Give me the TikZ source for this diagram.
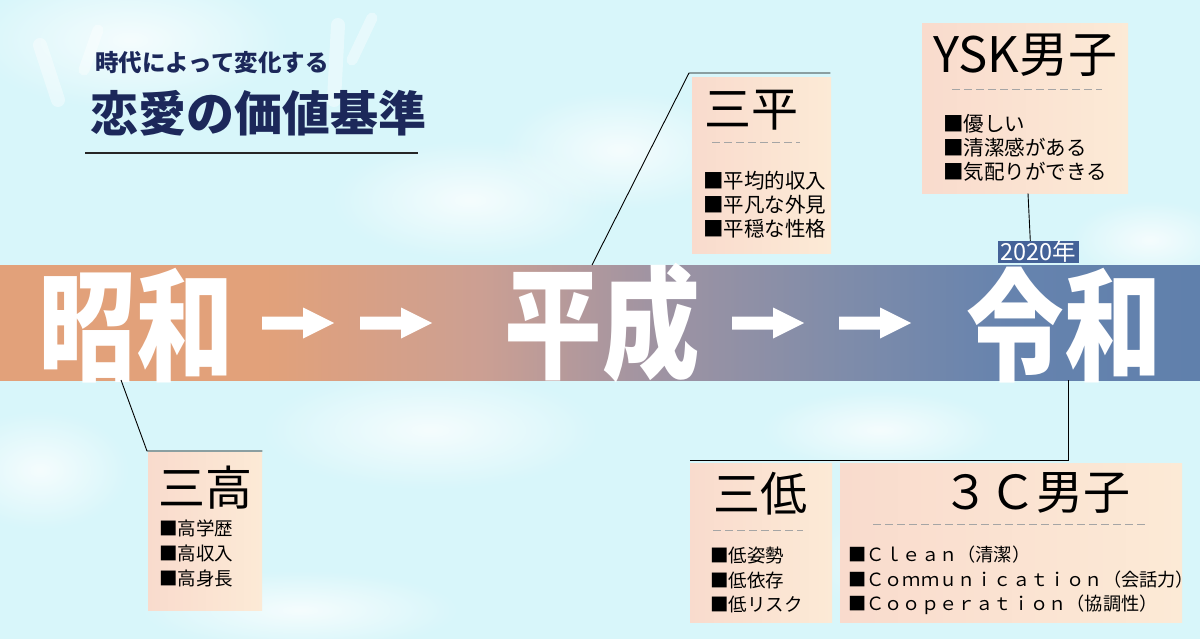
\documentclass[tikz,border=0pt]{standalone}
\usepackage{fontspec}
\usepackage{graphicx}
\setmainfont{Noto Sans CJK JP}
\usetikzlibrary{fadings,calc}
\definecolor{bgc}{RGB}{216,246,250}
\definecolor{navy}{RGB}{28,40,90}
\definecolor{yearc}{RGB}{68,98,152}
\definecolor{boxl}{RGB}{249,219,205}
\definecolor{boxr}{RGB}{252,234,214}
\definecolor{dashc}{RGB}{165,165,165}
\tikzfading[name=softblob, inner color=transparent!0, outer color=transparent!100]
\pgfdeclarehorizontalshading{bandsh}{100bp}{rgb(0bp)=(0.886,0.631,0.478); rgb(25bp)=(0.886,0.631,0.478); rgb(36bp)=(0.886,0.631,0.478); rgb(45bp)=(0.8,0.625,0.575); rgb(52bp)=(0.63,0.58,0.635); rgb(60bp)=(0.5,0.55,0.665); rgb(67bp)=(0.4,0.514,0.682); rgb(75bp)=(0.376,0.502,0.675); rgb(100bp)=(0.376,0.502,0.675)}
\tikzset{
  peach/.style={left color=boxl, right color=boxr, draw=none, inner sep=0, anchor=north west},
  conn/.style={draw=black, line width=0.9pt},
  dashln/.style={draw=dashc, line width=0.8pt, dash pattern=on 8pt off 4pt},
  era/.style={text=white, font=\fontsize{122}{122}\selectfont\bfseries, inner sep=0},
  boxtitle/.style={font=\fontsize{47}{47}\selectfont, inner sep=0},
  itemsm/.style={font=\fontsize{18.5}{20}\selectfont, inner sep=0, anchor=west},
  itembig/.style={font=\fontsize{20.5}{22}\selectfont, inner sep=0, anchor=west},
  blob/.style={fill=white, path fading=softblob, opacity=0.75},
  hand/.style={white, opacity=0.4, line cap=round},
  bandarr/.pic={\fill[white] (0,-6.5) -- (41,-6.5) -- (41,-15.5) -- (72,0) -- (41,15.5) -- (41,6.5) -- (0,6.5) -- cycle;}
}
\begin{document}
\begin{tikzpicture}[x=1pt,y=-1pt]
\useasboundingbox (0,0) rectangle (1200,639);
% background
\fill[bgc] (0,0) rectangle (1200,639);
\fill[blob] (130,40) ellipse (160 and 70);
\fill[blob] (470,200) ellipse (140 and 60);
\fill[blob] (620,150) ellipse (120 and 60);
\fill[blob] (430,430) ellipse (170 and 60);
\fill[blob] (950,560) ellipse (150 and 60);
\fill[blob] (300,610) ellipse (160 and 40);
\fill[blob] (1150,240) ellipse (80 and 40);
\fill[blob] (880,430) ellipse (120 and 40);
\fill[blob] (40,470) ellipse (90 and 60);
% faint hand strokes
\draw[hand, line width=14pt] (40,45) -- (58,100);
\draw[hand, line width=11pt] (98,30) -- (84,70);
\draw[hand, line width=14pt] (338,25) -- (334,100);
\draw[hand, line width=11pt] (372,18) -- (352,60);
% title
\node[text=navy, font=\fontsize{23.5}{24}\selectfont\bfseries, inner sep=0] (sub) at (212,63) {時代によって変化する};
\node[text=navy, font=\fontsize{48}{48}\selectfont\bfseries, inner sep=0] (ttl) at (258,113) {恋愛の価値基準};
\coordinate (tl1) at (85,153);
\coordinate (tl2) at (418,153);
\draw[line width=1.2pt, black!85] (tl1) -- (tl2);
% band
\node[shade, shading=bandsh, minimum width=1200pt, minimum height=115pt, inner sep=0, anchor=north west] (band) at (0,265) {};
\node[fill=yearc, text=white, font=\fontsize{23.5}{23.5}\selectfont, minimum width=81pt, minimum height=22pt, inner sep=0] (year) at (1038,252) {2020年};
\node[era] (showa) at (136,326) {\scalebox{0.8}[1]{昭和}};
\node[era] (heisei) at (602,323) {\scalebox{0.8}[1]{平成}};
\node[era] (reiwa) at (1064,325) {\scalebox{0.8}[1]{令和}};
\pic at (262,323) {bandarr};
\pic at (360,323) {bandarr};
\pic at (732,323) {bandarr};
\pic at (839,323) {bandarr};
% boxes
\node[peach, minimum width=114pt, minimum height=158pt] (kou) at (148,452) {};
\node[peach, minimum width=139pt, minimum height=176pt] (hei) at (692,77) {};
\node[peach, minimum width=206pt, minimum height=170pt] (ysk) at (922,23) {};
\node[peach, minimum width=142pt, minimum height=159pt] (tei) at (690,463) {};
\node[peach, minimum width=342pt, minimum height=159pt] (threec) at (840,463) {};
% connectors
\coordinate (s1) at (121,380);
\draw[conn] (s1) -- ($(kou.north west)+(-1,-1)$) -- ($(kou.north east)+(0,-1)$);
\coordinate (s2) at (592,265);
\draw[conn] (s2) -- ($(hei.north west)+(-3,-4)$) -- ($(hei.north east)+(-1,-4)$);
\draw[conn] ($(ysk.south west)+(106,0)$) -- ($(year.north west)+(33,0)$);
\coordinate (s4) at (1068,380);
\draw[conn] (s4) -- (1068,460) -- ($(tei.north west)+(0,-3)$);
% box 三高
\node[boxtitle] (kout) at (205,488) {三高};
\node[itemsm] (kou1) at (159,528) {■高学歴};
\node[itemsm] (kou2) at (159,553) {■高収入};
\node[itemsm] (kou3) at (159,578) {■高身長};
% box 三平
\node[boxtitle] (heit) at (751,110) {三平};
\draw[dashln] (712,142) -- (800,142);
\node[itembig] (hei1) at (703,181) {■平均的収入};
\node[itembig] (hei2) at (703,205) {■平凡な外見};
\node[itembig] (hei3) at (703,229) {■平穏な性格};
% box YSK
\node[font=\fontsize{49}{49}\selectfont, inner sep=0] (yskt) at (1025,55) {YSK男子};
\draw[dashln] (952,89) -- (1102,89);
\node[itembig] (ysk1) at (943,124) {■優しい};
\node[itembig] (ysk2) at (943,148) {■清潔感がある};
\node[itembig] (ysk3) at (943,172) {■気配りができる};
% box 三低
\node[boxtitle] (teit) at (760,494) {三低};
\draw[dashln] (713,530) -- (803,530);
\node[itemsm] (tei1) at (710,555) {■低姿勢};
\node[itemsm] (tei2) at (710,580) {■低依存};
\node[itemsm] (tei3) at (710,604) {■低リスク};
% box 3C
\node[boxtitle] (threect) at (1036,493) {３Ｃ男子};
\draw[dashln] (873,524) -- (1147,524);
\node[itemsm, font=\fontsize{18.2}{20}\selectfont] (c1) at (848,555) {■Ｃｌｅａｎ（清潔）};
\node[itemsm, font=\fontsize{18.2}{20}\selectfont] (c2) at (848,580) {■Ｃｏｍｍｕｎｉｃａｔｉｏｎ（会話力）};
\node[itemsm, font=\fontsize{18.2}{20}\selectfont] (c3) at (848,605) {■Ｃｏｏｐｅｒａｔｉｏｎ（協調性）};
\end{tikzpicture}
\end{document}
